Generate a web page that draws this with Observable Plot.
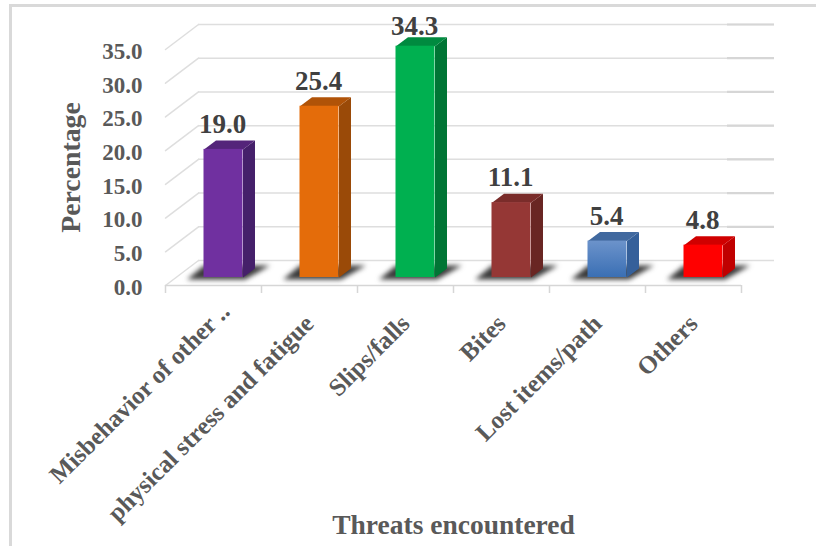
<!DOCTYPE html>
<html>
<head>
<meta charset="utf-8">
<script src="https://cdn.jsdelivr.net/npm/d3@7"></script>
<script src="https://cdn.jsdelivr.net/npm/@observablehq/plot@0.6"></script>
<style>
html,body{margin:0;padding:0;background:#fff;overflow:hidden}
#chart{position:relative;width:817px;height:546px}
#chart svg{display:block;position:absolute;left:0;top:0}
#chart::before{content:"";position:absolute;left:9px;top:4px;right:1px;height:2.5px;background:#d9d9d9}
#chart::after{content:"";position:absolute;left:9px;top:4px;bottom:0;width:2.5px;background:#d9d9d9}
</style>
</head>
<body>
<div id="chart"></div>
<script>
const categories = ["Misbehavior of other ..","physical stress and fatigue","Slips/falls","Bites","Lost items/path","Others"];
const values = [19.0,25.4,34.3,11.1,5.4,4.8];
const frontColors = ["#7030A0","#E46C0A","#00B050","#953735","url(#blueFace)","#FF0000"];
const sideColors = ["#45206A","#9A4A08","#007535","#692623","#35609A","#C00000"];
const topColors = ["#54257A","#B05308","#008A3F","#7A2C2A","#41699F","#D00000"];
const yTicks = [0,5,10,15,20,25,30,35];
const tickLabels = ["0.0","5.0","10.0","15.0","20.0","25.0","30.0","35.0"];
const xEdges = [-0.5,0.5,1.5,2.5,3.5,4.5,5.5];

// 3-D look: pixel offsets, converted to data units by the scale ratios
const pxX = 96, pxY = 236 / 35;
const wallDx = 33 / pxX, wallDy = 25 / pxY;
const barHalf = 19.5 / pxX, barShift = 10 / pxX, barLift = 8 / pxY;
const depthX = 12 / pxX, depthY = 9 / pxY;

const rows = categories.map((c,i)=>({c,i,v:values[i],front:frontColors[i],side:sideColors[i],top:topColors[i]}));
const L = d => d.i - barHalf + barShift;
const R = d => d.i + barHalf + barShift;

const poly = (fn) => rows.flatMap(d => fn(d).map(([x,y]) => ({x,y,k:d.i,side:d.side,top:d.top})));
const sides = poly(d => [[R(d),barLift],[R(d)+depthX,barLift+depthY],[R(d)+depthX,barLift+depthY+d.v],[R(d),barLift+d.v]]);
const tops = poly(d => [[L(d),barLift+d.v],[R(d),barLift+d.v],[R(d)+depthX,barLift+depthY+d.v],[L(d)+depthX,barLift+depthY+d.v]]);
const shadows = poly(d => [[L(d)-17/pxX,barLift-2/pxY],[R(d)+2/pxX,barLift-2/pxY],[R(d)+27/pxX,barLift+12/pxY],[L(d),barLift+12/pxY]]);
const sideLines = yTicks.flatMap(t => [{x:-0.5,y:t,t},{x:-0.5+wallDx,y:t+wallDy,t}]);
const firstLabelNudge = 12; // the truncated first label ends further along its slope

const plot = Plot.plot({
  width:817, height:546, margin:0,
  style:{background:"transparent"},
  x:{type:"linear",domain:[-0.5,5.5],range:[165,741],axis:null},
  y:{type:"linear",domain:[0,35],range:[285,49],axis:null},
  marks:[
    // back wall gridlines, slightly heavier past the last floor tick
    Plot.ruleY(yTicks,{y:t=>t+wallDy,x1:-0.5+wallDx,x2:5.5+wallDx,stroke:"#dedede",strokeWidth:1.5}),
    Plot.ruleY(yTicks.filter(t=>t>0),{y:t=>t+wallDy,x1:5.5+wallDx-47/pxX,x2:5.5+wallDx,stroke:"#d6d6d6",strokeWidth:2.2}),
    // side wall gridlines
    Plot.line(sideLines,{x:"x",y:"y",z:"t",stroke:"#dedede",strokeWidth:1.5}),
    // floor front edge and ticks
    Plot.ruleY([0],{x1:-0.5,x2:5.5,stroke:"#d6d6d6",strokeWidth:1.5}),
    Plot.ruleX(xEdges,{y1:0,y2:-8/pxY,stroke:"#d6d6d6",strokeWidth:1.5}),
    // shadows
    Plot.line(shadows,{x:"x",y:"y",z:"k",fill:"#3a3a3a",stroke:"none",curve:"linear-closed",imageFilter:"blur(2.5px)"}),
    // bars
    Plot.line(sides,{x:"x",y:"y",z:"k",fill:"side",stroke:"none",curve:"linear-closed"}),
    Plot.line(tops,{x:"x",y:"y",z:"k",fill:"top",stroke:"none",curve:"linear-closed"}),
    Plot.rect(rows,{x1:L,x2:R,y1:()=>barLift,y2:d=>barLift+d.v,fill:"front"}),
    // value labels (the tallest label sits lower, against the top of the plot)
    Plot.text(rows,{x:d=>d.i+barShift+depthX/2,y:d=>barLift+depthY+d.v-(d.v>34?5/pxY:0),text:d=>d.v.toFixed(1),dx:-7,dy:-16,fontFamily:"Liberation Serif",fontWeight:"bold",fontSize:27,fill:"#404040"}),
    // y tick labels
    Plot.text(yTicks,{x:-0.5,y:t=>t,text:(t,i)=>tickLabels[i],textAnchor:"end",dx:-23,dy:2,fontFamily:"Liberation Serif",fontWeight:"bold",fontSize:23,fill:"#595959"}),
    // x category labels
    Plot.text(rows,{x:d=>d.i+(d.i===0?firstLabelNudge/pxX:0),y:d=>d.i===0?firstLabelNudge/pxY:0,text:"c",rotate:-45,textAnchor:"end",dx:0,dy:34,fontFamily:"Liberation Serif",fontWeight:"bold",fontSize:25,fill:"#595959"}),
    // axis titles
    Plot.text(["Threats encountered"],{x:2.5,y:0,dx:0,dy:240,fontFamily:"Liberation Serif",fontWeight:"bold",fontSize:27.5,fill:"#595959"}),
    Plot.text(["Percentage"],{x:-0.5,y:17.5,rotate:-90,dx:-94,dy:0,fontFamily:"Liberation Serif",fontWeight:"bold",fontSize:27.8,fill:"#595959"}),
    // gradient definition for the blue bar
    () => {
      const ns="http://www.w3.org/2000/svg";
      const defs=document.createElementNS(ns,"defs");
      defs.innerHTML='<linearGradient id="blueFace" x1="0" y1="0" x2="0" y2="1"><stop offset="0" stop-color="#6C93CB"/><stop offset="1" stop-color="#3A6FB4"/></linearGradient>';
      return defs;
    }
  ]
});
document.getElementById("chart").appendChild(plot);
</script>
</body>
</html>
